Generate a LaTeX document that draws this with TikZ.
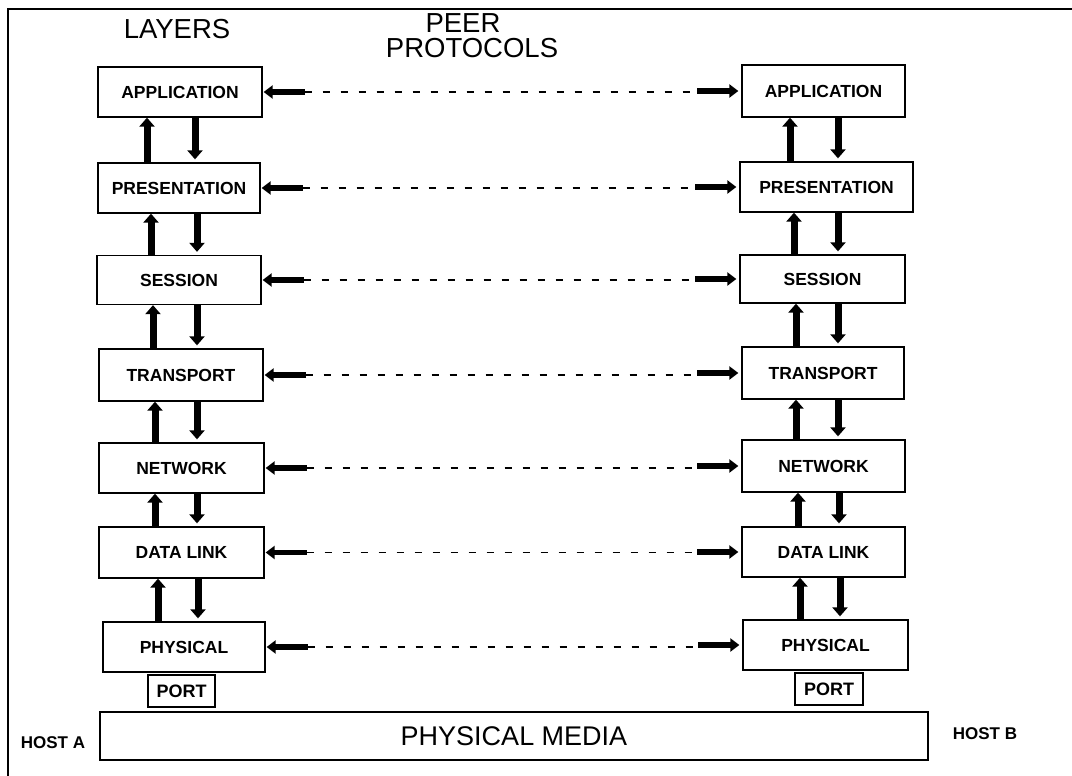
\documentclass[tikz,border=0pt]{standalone}
\usepackage{fontspec}
\setmainfont{Liberation Sans}
\usetikzlibrary{arrows.meta}
\begin{document}
\begin{tikzpicture}[x=1pt,y=-1pt,
  layer/.style={draw,line width=1.3pt,inner sep=0pt,minimum height=50pt,
    font=\bfseries\fontsize{17.5}{19}\selectfont},
  portbox/.style={draw,line width=1.3pt,inner sep=0pt,minimum width=67pt,minimum height=32pt,
    font=\bfseries\fontsize{18}{19}\selectfont},
  title/.style={font=\fontsize{27.5}{29}\selectfont},
  hostlabel/.style={font=\bfseries\fontsize{17}{18}\selectfont},
  vup/.style={line width=7pt,-{Triangle[length=9pt,width=15pt]}},
  peerhead/.style={line width=5.5pt,-{Triangle[length=9pt,width=13pt]}},
  peerline/.style={line width=1.1pt,dash pattern=on 7pt off 11pt}]
\useasboundingbox (0,0) rectangle (1072,776);

% outer frame (top and left edges)
\draw[line width=1.8pt] (8,776) -- (8,9) -- (1072,9);

% headings
\node[title] (tlayers) at (177,29) {LAYERS};
\node[title] (tpeer) at (463,23) {PEER};
\node[title] (tproto) at (472,48) {PROTOCOLS};

% host A stack
\node[layer,minimum width=164pt] (lA) at (180,92)  {APPLICATION};
\node[layer,minimum width=162pt] (lB) at (179,188) {PRESENTATION};
\node[layer,minimum width=164pt,minimum height=49pt] (lC) at (179,280) {SESSION};
\node[layer,minimum width=164pt,minimum height=52pt] (lD) at (181,375) {TRANSPORT};
\node[layer,minimum width=165pt] (lE) at (181.5,468) {NETWORK};
\node[layer,minimum width=165pt,minimum height=51pt] (lF) at (181.5,552.5) {DATA LINK};
\node[layer,minimum width=162pt] (lG) at (184,647) {PHYSICAL};
\node[portbox] (lP) at (181.5,691) {PORT};

% host B stack
\node[layer,minimum width=163pt,minimum height=52pt] (rA) at (823.5,91) {APPLICATION};
\node[layer,minimum width=173pt] (rB) at (826.5,187) {PRESENTATION};
\node[layer,minimum width=165pt,minimum height=48pt] (rC) at (822.5,279) {SESSION};
\node[layer,minimum width=162pt,minimum height=52pt] (rD) at (823,373) {TRANSPORT};
\node[layer,minimum width=163pt,minimum height=52pt] (rE) at (823.5,466) {NETWORK};
\node[layer,minimum width=163pt] (rF) at (823.5,552) {DATA LINK};
\node[layer,minimum width=165pt] (rG) at (825.5,645) {PHYSICAL};
\node[portbox,minimum width=68pt] (rP) at (829,689) {PORT};

% shared medium
\node[draw,line width=1.3pt,minimum width=828pt,minimum height=48pt,inner sep=0pt,
  font=\fontsize{27}{29}\selectfont] (media) at (514,736) {PHYSICAL MEDIA};
\node[hostlabel] (hA) at (53,743) {HOST A};
\node[hostlabel] (hB) at (985,734) {HOST B};

% up/down flow between adjacent layers
\foreach \u/\l/\ux/\dx in {lA/lB/147/195, lB/lC/151/197, lC/lD/153/197,
                           lD/lE/155/197, lE/lF/155/197, lF/lG/158/198,
                           rA/rB/790/838, rB/rC/794/838, rC/rD/796/838,
                           rD/rE/796/838, rE/rF/798/839, rF/rG/800/840} {
  \draw[vup] (\ux,0 |- \l.north) -- (\ux,0 |- \u.south);
  \draw[vup,shorten >=3pt] (\dx,0 |- \u.south) -- (\dx,0 |- \l.north);
}

% peer protocol links
\foreach \l/\r in {lA/rA, lB/rB, lC/rC, lD/rD, lE/rE, lF/rF, lG/rG} {
  \draw[peerline] ([xshift=42pt]\l.east) -- ([xshift=-44pt]\r.west |- \l.east);
  \draw[peerhead] ([xshift=42pt]\l.east) -- ([xshift=1pt]\l.east);
  \draw[peerhead] ([xshift=-44pt]\r.west) -- ([xshift=-3pt]\r.west);
}
\end{tikzpicture}
\end{document}
